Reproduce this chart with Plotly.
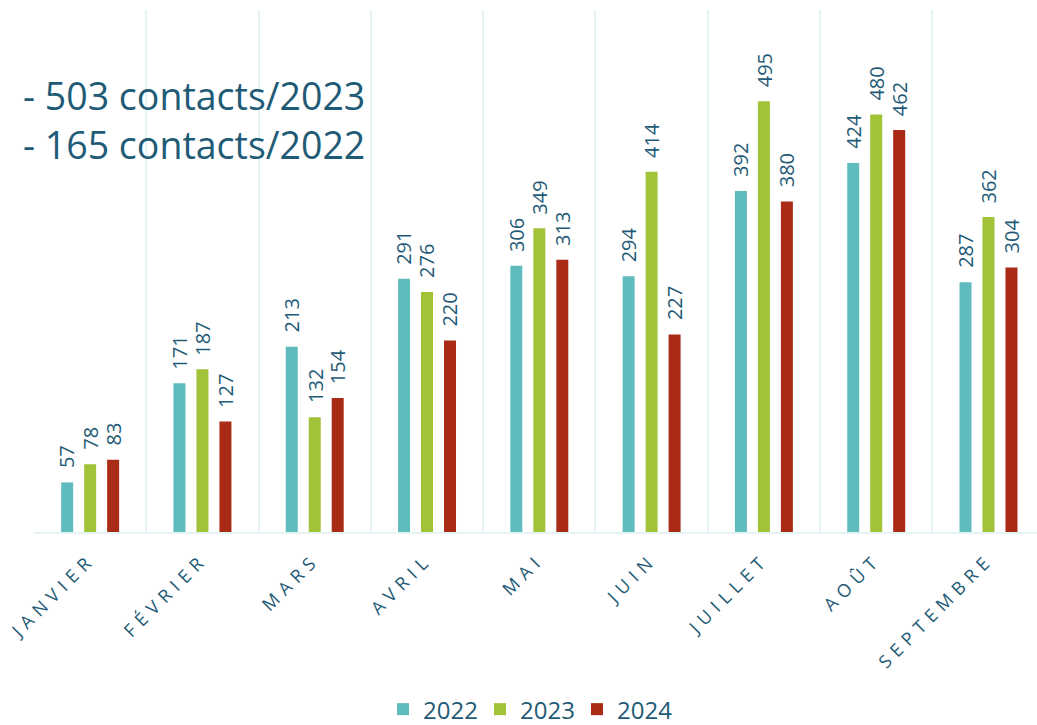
import plotly.graph_objects as go

months = ["JANVIER", "FÉVRIER", "MARS", "AVRIL", "MAI", "JUIN", "JUILLET", "AOÛT", "SEPTEMBRE"]
v2022 = [57, 171, 213, 291, 306, 294, 392, 424, 287]
v2023 = [78, 187, 132, 276, 349, 414, 495, 480, 362]
v2024 = [83, 127, 154, 220, 313, 227, 380, 462, 304]
series_names = ["2022", "2023", "2024"]
series_vals = [v2022, v2023, v2024]
colors = ["#5fbbbe", "#a0c338", "#a92b16"]
note_lines = ["- 503 contacts/2023", "- 165 contacts/2022"]

TXT = "#1f5b76"
FONT = "Open Sans"
BARGAP = 0.386
BARGROUPGAP = 0.478

fig = go.Figure()
for name, vals, col in zip(series_names, series_vals, colors):
    fig.add_trace(go.Bar(name=name, x=months, y=vals, marker=dict(color=col, line=dict(width=0))))

slot = (1 - BARGAP) / len(series_vals)
for si, vals in enumerate(series_vals):
    off = (si - (len(series_vals) - 1) / 2) * slot
    for mi, v in enumerate(vals):
        fig.add_annotation(x=mi + off, y=v, xref="x", yref="y", text=str(v),
                           textangle=-90, showarrow=False, yanchor="bottom", xanchor="center",
                           yshift=12, font=dict(family=FONT, size=20, color=TXT))

fig.add_annotation(xref="paper", yref="paper", x=-0.013, y=0.888, xanchor="left", yanchor="top",
                   text="<br>".join(note_lines), showarrow=False, align="left",
                   font=dict(family=FONT, size=37.5, color=TXT))

fig.update_layout(
    width=1037, height=725,
    margin=dict(l=34, r=0, t=10, b=193, autoexpand=False),
    paper_bgcolor="white", plot_bgcolor="white",
    barmode="group", bargap=BARGAP, bargroupgap=BARGROUPGAP,
    font=dict(family=FONT, color=TXT),
    showlegend=True,
    legend=dict(orientation="h", x=0.493, xanchor="center", yref="paper", y=-0.297, yanchor="top",
                font=dict(family=FONT, size=24, color=TXT), entrywidth=52, entrywidthmode="pixels"),
    xaxis=dict(type="category", range=[-0.5, 8.432], tickson="boundaries", showgrid=True,
               gridcolor="#e6f3f5", gridwidth=2, showline=True, linecolor="#e6f3f5", linewidth=2,
               ticks="", tickangle=-45, ticklabelstandoff=8,
               tickfont=dict(family=FONT, size=18, color=TXT)),
    yaxis=dict(range=[0, 600], visible=False, showgrid=False, zeroline=False),
)

post = ("document.body.style.margin='0';"
        "document.querySelectorAll('.xtick text').forEach(function(t){t.setAttribute('letter-spacing','6px');});")
fig.write_html("out.html", post_script=post, config={"displayModeBar": False})
